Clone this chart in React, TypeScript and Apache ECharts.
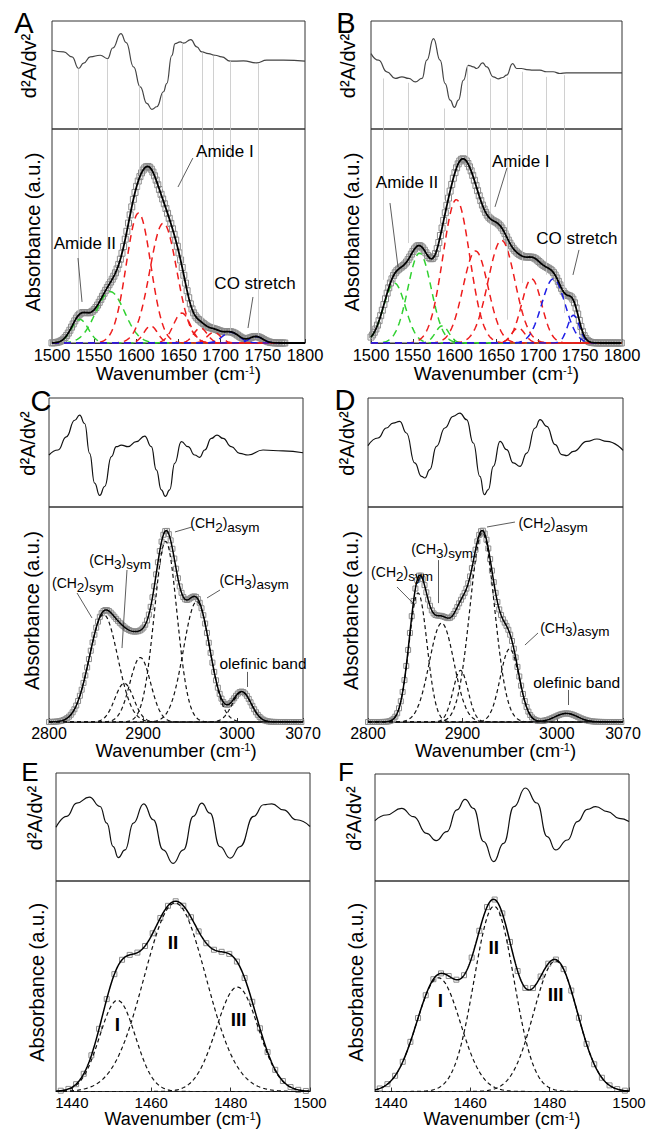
import React, { useEffect, useRef } from "react";
import * as echarts from "echarts";

type Pt = [number, number];
type Peak = [number, number, number]; // [centre (cm-1), height (a.u. 0-100), sigma (cm-1)]

// ---------------- Panel A ----------------
const A_D2: Pt[] = [[1500,72.9],[1513.8,71.4],[1523.7,66.8],[1531.6,56],[1537.5,61],[1545.4,66.8],[1557.2,68.3],[1565.9,65.2],[1572,75],[1581.7,88.3],[1588,80],[1596.7,57.5],[1604.6,39],[1612.5,23.7],[1618.4,18.2],[1624.3,20.6],[1632.2,34.5],[1636,42],[1642,68],[1646,79],[1652,80.6],[1656,79.5],[1664.6,82.8],[1671.7,76],[1677.6,71.4],[1685.5,69.8],[1693.4,68.3],[1701.3,66.8],[1711.2,62.8],[1727,63],[1742.8,61.2],[1754.6,63.7],[1774.3,63.7],[1800,62.8]];
const A_GREEN: Peak[] = [[1533, 11, 10], [1569, 24, 17]];
const A_RED: Peak[] = [[1602.6, 60.7, 14.5], [1617, 8, 8], [1632, 56, 16], [1654, 14, 10], [1676, 7, 8], [1692, 5, 8]];
const A_BLUE: Peak[] = [[1712, 5, 10], [1742, 3, 8]];
const A_GUIDE_WN = [1531.6, 1565.9, 1603.8, 1631, 1655, 1677.6, 1691.4, 1711, 1744];
const A_GUIDE_TOP = [56, 65, 40, 33, 80, 71, 68, 63, 61];
const A_GUIDE_END = [13, 30, 72, 72, 29, 10, 7, 5.5, 3];
const A_LABELS = ["Amide I", "Amide II", "CO stretch"];
const A_LABEL_POS: Pt[] = [[1705, 89.3], [1539, 46.3], [1740.7, 27.6]];
const A_ARROWS: [Pt, Pt][] = [[[1667, 86.4], [1649.4, 72.9]], [[1530.8, 39.7], [1535.6, 19.2]], [[1738.3, 21.5], [1732.4, 7]]];

// ---------------- Panel B ----------------
const B_D2: Pt[] = [[1500,69.8],[1509,63.7],[1519,52.9],[1529,46.8],[1537,48.3],[1545,46.8],[1553,43.7],[1561,46.8],[1566.7,63.7],[1574.7,83.7],[1582.6,63.7],[1588.6,42],[1594.6,26.8],[1599.7,20],[1604.5,26.8],[1610.5,45.2],[1616.4,59],[1622.4,57.5],[1626.4,56],[1633.5,61.2],[1638.3,57.5],[1646.2,48.3],[1652,46.5],[1657.3,47.7],[1662,49.8],[1669.3,60.6],[1674,56],[1680,56],[1686,55],[1693.9,54.5],[1701.8,54.5],[1709.8,53],[1717.7,53],[1725.7,51.4],[1733.6,52],[1753.5,52],[1800,52]];
const B_GREEN: Peak[] = [[1528, 28, 13], [1558, 42, 14], [1585, 8, 8]];
const B_RED: Peak[] = [[1602, 67, 16], [1625, 43, 15], [1656, 48, 16], [1676, 7, 8], [1692, 30, 12]];
const B_BLUE: Peak[] = [[1718, 30, 14], [1742, 13, 7]];
const B_GUIDE_WN = [1514.3, 1544.9, 1587.4, 1615.2, 1643, 1662.9, 1680.7, 1709.8, 1730.8];
const B_GUIDE_TOP = [46.8, 42.8, 19, 59, 46.8, 47.7, 53, 48.3, 49.8];
const B_GUIDE_END = [29.5, 46.7, 66.9, 85.5, 43.5, 10.9, 28, 31.9, 14];
const B_LABELS = ["Amide II", "Amide I", "CO stretch"];
const B_LABEL_POS: Pt[] = [[1543, 75.2], [1679, 85], [1746, 48.6]];
const B_ARROWS: [Pt, Pt][] = [[[1522.7, 65.4], [1532.3, 35.5]], [[1662.5, 81.8], [1648.2, 63.6]], [[1748.6, 43.5], [1741.4, 31.8]]];

// ---------------- Panel C ----------------
const C_D2: Pt[] = [[2800,47.7],[2809.6,52.3],[2818.4,64.4],[2827.3,79.6],[2832.6,84.2],[2837.9,76.6],[2843.2,49.2],[2848.5,21.9],[2853.9,10.6],[2859.2,18.8],[2866.3,46.2],[2871.6,55.3],[2876.9,56.8],[2884,55.3],[2892.8,59.9],[2901.7,65],[2908.8,55.3],[2914.1,34],[2919.4,15.8],[2923.7,9.7],[2928.3,15.8],[2933.6,40.1],[2940.7,59.9],[2947.8,55.3],[2954.9,47.7],[2960.2,45.6],[2965.5,52.3],[2972.6,62.9],[2978.6,66],[2985,62.9],[2993.8,55.3],[3002.7,49.2],[3011.6,47.7],[3027.5,52.3],[3048.8,51.4],[3070,49.8]];
const C_PEAKS: Peak[] = [[2858, 50, 15], [2880, 18, 10], [2897, 30, 11], [2924, 84, 12], [2957, 56, 14], [3005, 14, 10]];
const C_LABELS = ["{p|(CH}{s|2}{p|)}{s|sym}", "{p|(CH}{s|3}{p|)}{s|sym}", "{p|(CH}{s|2}{p|)}{s|asym}", "{p|(CH}{s|3}{p|)}{s|asym}", "{o|olefinic band}"];
const C_LABEL_POS: Pt[] = [[2836, 63.7], [2875.5, 74.4], [2987, 91.6], [3018, 65], [3027.5, 27]];
const C_ARROWS: [Pt, Pt][] = [[[2829.8, 60], [2845.7, 48.4]], [[2882.9, 70.7], [2877.6, 34.4]], [[2952, 90.7], [2933.9, 88.4]], [[2981.8, 61.4], [2968, 57.7]], [[3010.5, 23.3], [3010.5, 16.3]]];

// ---------------- Panel D ----------------
const D_D2: Pt[] = [[2800,56.3],[2810.6,63.3],[2819.5,72.5],[2826.5,77],[2833.6,78.6],[2840.7,67.9],[2849.5,40.4],[2856.6,28.1],[2860.2,26.6],[2865.5,34.3],[2872.5,55.7],[2881.4,72.5],[2890.2,83.2],[2897.3,86.2],[2904.4,80.1],[2911.5,58.7],[2918.5,28.1],[2923.1,11.3],[2927.4,15.9],[2932.7,37.3],[2939.8,60.2],[2946.8,52.6],[2953.9,40.4],[2961,37.3],[2968.1,49.5],[2976.9,72.5],[2982.2,80.1],[2989.3,74],[2998.2,57.2],[3005.2,48],[3010.5,47.1],[3017.6,51.1],[3031.8,60.2],[3042.4,62.4],[3053,60.2],[3070,52]];
const D_PEAKS: Peak[] = [[2853, 60, 9.5], [2878, 46, 13], [2898, 24, 8], [2921, 88, 13], [2950, 34, 10], [3010, 4, 12]];
const D_LABELS = ["{p|(CH}{s|2}{p|)}{s|sym}", "{p|(CH}{s|3}{p|)}{s|sym}", "{p|(CH}{s|2}{p|)}{s|asym}", "{p|(CH}{s|3}{p|)}{s|asym}", "{o|olefinic band}"];
const D_LABEL_POS: Pt[] = [[2836, 68.8], [2878.4, 79.5], [2996, 91.6], [3019, 42.8], [3021, 18.6]];
const D_ARROWS: [Pt, Pt][] = [[[2830.7, 62.8], [2847.6, 55.3]], [[2874.1, 75.3], [2874.1, 55.3]], [[2955.6, 93], [2926, 90.7]], [[2980, 41.4], [2966.2, 35.8]], [[3011.8, 14.9], [3011.8, 7.9]]];

// ---------------- Panel E ----------------
const E_D2: Pt[] = [[1436,49.8],[1438.7,59.8],[1441.2,72.1],[1444.4,77.7],[1447.1,69],[1448.8,53.6],[1450.4,31.9],[1451.7,21.7],[1453.4,28.8],[1455.5,53.6],[1458.1,71.5],[1460.5,56.7],[1463,28.8],[1465.5,16.4],[1468.1,28.8],[1470.6,59.8],[1472.7,72.1],[1474.8,62.8],[1477.3,31.9],[1479.9,21.1],[1482.4,31.9],[1485.8,59.8],[1488.3,70.6],[1490.4,71.5],[1493.3,65.9],[1496.6,56.7],[1500,50.5]];
const E_PEAKS: Peak[] = [[1451.5, 43.3, 4.5], [1466, 89.5, 7.8], [1481.7, 49.6, 5.3]];
const E_LABELS = ["I", "II", "III"];
const E_LABEL_POS: Pt[] = [[1451.5, 31.6], [1465.5, 70.9], [1482, 34]];

// ---------------- Panel F ----------------
const F_D2: Pt[] = [[1436,56.4],[1438.9,61.7],[1442.7,67.9],[1445.7,60.1],[1449,44.5],[1451.4,37.7],[1454.1,46.1],[1456.6,66.4],[1458.7,76.3],[1460.8,67.9],[1463.4,36.8],[1465.9,18.1],[1468.4,35.2],[1471,69.5],[1473.9,86.9],[1476.8,72.9],[1479.4,41.4],[1481.5,29],[1484.5,38.3],[1487,55.5],[1489.5,66.9],[1491.6,69.5],[1494.6,64.8],[1497.5,58.6],[1500,55.5]];
const F_PEAKS: Peak[] = [[1452, 54, 5.5], [1466, 88, 5], [1481.5, 62, 5.5]];
const F_LABELS = ["I", "II", "III"];
const F_LABEL_POS: Pt[] = [[1452.5, 43.2], [1465.9, 68.3], [1481.5, 46.3]];

// tick labels
const AB_TICKS = [1500, 1550, 1600, 1650, 1700, 1750, 1800];
const CD_TICKS = [2800, 2900, 3000, 3070];
const EF_TICKS = [1440, 1460, 1480, 1500];

const FONT = "'Liberation Sans', Arial, Helvetica, sans-serif";
const GREEN = "#2fd12f";
const RED = "#ee1c1c";
const BLUE = "#1c1ce6";
const TXT = "#000";

interface Group { peaks: Peak[]; color: string; }
interface PanelDef {
  letter: string; letterX: number; letterY: number; letterSize: number;
  left: number; width: number; top1: number; h1: number; h2: number;
  xMin: number; xMax: number; ticks: number[]; tickFont: number; tickMargin: number; titleFont: number;
  d2: Pt[]; d2Color: string; groups: Group[]; colored: boolean;
  sqFrom: number; sqTo: number;
  guideWn?: number[]; guideTop?: number[]; guideEnd?: number[];
  labels: string[]; labelPos: Pt[]; arrows: [Pt, Pt][]; kind: "plain" | "chem" | "roman";
  gapD2: number; gapAbs: number;
}

const PANELS: PanelDef[] = [
  { letter: "A", letterX: 24, letterY: 23, letterSize: 29, left: 52, width: 253, top1: 21, h1: 108, h2: 214,
    xMin: 1500, xMax: 1800, ticks: AB_TICKS, tickFont: 16.5, tickMargin: 4, titleFont: 19, d2: A_D2, d2Color: "#444",
    groups: [{ peaks: A_GREEN, color: GREEN }, { peaks: A_RED, color: RED }, { peaks: A_BLUE, color: BLUE }], colored: true,
    sqFrom: 1500, sqTo: 1776, guideWn: A_GUIDE_WN, guideTop: A_GUIDE_TOP, guideEnd: A_GUIDE_END,
    labels: A_LABELS, labelPos: A_LABEL_POS, arrows: A_ARROWS, kind: "plain", gapD2: 13, gapAbs: 9 },
  { letter: "B", letterX: 346, letterY: 23, letterSize: 29, left: 371, width: 251, top1: 21, h1: 108, h2: 214,
    xMin: 1500, xMax: 1800, ticks: AB_TICKS, tickFont: 16.5, tickMargin: 4, titleFont: 19, d2: B_D2, d2Color: "#444",
    groups: [{ peaks: B_GREEN, color: GREEN }, { peaks: B_RED, color: RED }, { peaks: B_BLUE, color: BLUE }], colored: true,
    sqFrom: 1500, sqTo: 1800, guideWn: B_GUIDE_WN, guideTop: B_GUIDE_TOP, guideEnd: B_GUIDE_END,
    labels: B_LABELS, labelPos: B_LABEL_POS, arrows: B_ARROWS, kind: "plain", gapD2: 13, gapAbs: 9 },
  { letter: "C", letterX: 41, letterY: 401, letterSize: 29, left: 49, width: 254, top1: 398, h1: 109, h2: 215,
    xMin: 2800, xMax: 3070, ticks: CD_TICKS, tickFont: 16, tickMargin: 3, titleFont: 18.5, d2: C_D2, d2Color: "#111",
    groups: [{ peaks: C_PEAKS, color: "#111" }], colored: false,
    sqFrom: 2800, sqTo: 3070, labels: C_LABELS, labelPos: C_LABEL_POS, arrows: C_ARROWS, kind: "chem", gapD2: 11, gapAbs: 7 },
  { letter: "D", letterX: 345, letterY: 400, letterSize: 29, left: 368, width: 255, top1: 398, h1: 109, h2: 215,
    xMin: 2800, xMax: 3070, ticks: CD_TICKS, tickFont: 16, tickMargin: 3, titleFont: 18.5, d2: D_D2, d2Color: "#111",
    groups: [{ peaks: D_PEAKS, color: "#111" }], colored: false,
    sqFrom: 2800, sqTo: 3070, labels: D_LABELS, labelPos: D_LABEL_POS, arrows: D_ARROWS, kind: "chem", gapD2: 11, gapAbs: 7 },
  { letter: "E", letterX: 30, letterY: 772, letterSize: 26, left: 56, width: 254, top1: 773, h1: 108, h2: 213,
    xMin: 1436, xMax: 1500, ticks: EF_TICKS, tickFont: 15, tickMargin: 3, titleFont: 18, d2: E_D2, d2Color: "#111",
    groups: [{ peaks: E_PEAKS, color: "#111" }], colored: false,
    sqFrom: 1437.2, sqTo: 1499.5, labels: E_LABELS, labelPos: E_LABEL_POS, arrows: [], kind: "roman", gapD2: 11, gapAbs: 9 },
  { letter: "F", letterX: 346, letterY: 772, letterSize: 26, left: 375, width: 254, top1: 774, h1: 107, h2: 212,
    xMin: 1436, xMax: 1500, ticks: EF_TICKS, tickFont: 15, tickMargin: 3, titleFont: 18, d2: F_D2, d2Color: "#111",
    groups: [{ peaks: F_PEAKS, color: "#111" }], colored: false,
    sqFrom: 1437.2, sqTo: 1499.5, labels: F_LABELS, labelPos: F_LABEL_POS, arrows: [], kind: "roman", gapD2: 11, gapAbs: 9 },
];

function gauss(p: Peak, x: number): number {
  const d = (x - p[0]) / p[2];
  return p[1] * Math.exp(-0.5 * d * d);
}

function buildOption() {
  const grid: any[] = [];
  const xAxis: any[] = [];
  const yAxis: any[] = [];
  const series: any[] = [];
  const graphic: any[] = [];

  PANELS.forEach((P, i) => {
    const gTop = 2 * i;
    const gBot = 2 * i + 1;
    grid.push({ left: P.left, top: P.top1, width: P.width, height: P.h1, show: true, borderColor: "#333", borderWidth: 1, backgroundColor: "transparent" });
    grid.push({ left: P.left, top: P.top1 + P.h1, width: P.width, height: P.h2, show: true, borderColor: "#333", borderWidth: 1, backgroundColor: "transparent" });

    xAxis.push({ type: "value", gridIndex: gTop, min: P.xMin, max: P.xMax, axisLabel: { show: false }, axisTick: { show: false }, axisLine: { show: false }, splitLine: { show: false } });
    xAxis.push({
      type: "value", gridIndex: gBot, min: P.xMin, max: P.xMax,
      axisLine: { show: true, lineStyle: { color: "#333", width: 1 } },
      axisTick: { show: true, inside: true, length: 4, lineStyle: { color: "#333" }, customValues: P.ticks },
      axisLabel: {
        show: true, customValues: P.ticks, formatter: (v: number) => String(v),
        fontSize: P.tickFont, lineHeight: P.tickFont, color: TXT, fontFamily: FONT, margin: P.tickMargin,
      },
      splitLine: { show: false },
      name: "{n|Wavenumber (cm}{s|-1}{n|)}",
      nameLocation: "middle",
      nameGap: P.tickMargin + P.tickFont + 0.5,
      nameMoveOverlap: false,
      nameTextStyle: {
        fontFamily: FONT, color: TXT,
        rich: {
          n: { fontSize: P.titleFont, lineHeight: P.titleFont, verticalAlign: "bottom", fontFamily: FONT, color: TXT },
          s: { fontSize: 11, lineHeight: 11, verticalAlign: "top", fontFamily: FONT, color: TXT },
        },
      },
    });
    yAxis.push({
      type: "value", gridIndex: gTop, min: 0, max: 100, axisLabel: { show: false }, axisTick: { show: false }, axisLine: { show: false }, splitLine: { show: false },
      name: "d²A/dv²", nameLocation: "middle", nameGap: P.gapD2, nameMoveOverlap: false,
      nameTextStyle: { fontSize: 20, fontFamily: FONT, color: TXT, padding: [0, 0, 0, 18] },
    });
    yAxis.push({
      type: "value", gridIndex: gBot, min: 0, max: 100, axisLabel: { show: false }, axisTick: { show: false }, axisLine: { show: false }, splitLine: { show: false },
      name: "Absorbance (a.u.)", nameLocation: "middle", nameGap: P.gapAbs, nameMoveOverlap: false,
      nameTextStyle: { fontSize: 20, fontFamily: FONT, color: TXT, padding: [0, 0, 0, 8] },
    });

    // second-derivative spectrum (top)
    const topGuides = P.guideWn
      ? P.guideWn.map((w, k) => [{ coord: [w, P.guideTop![k]] }, { coord: [w, 0] }])
      : [];
    series.push({
      type: "line", xAxisIndex: gTop, yAxisIndex: gTop, data: P.d2, smooth: 0.5, smoothMonotone: "x",
      symbol: "none", lineStyle: { color: P.d2Color, width: 1.2 }, silent: true, z: 4,
      markLine: topGuides.length ? { silent: true, symbol: "none", label: { show: false }, lineStyle: { color: "#c4c4c4", width: 0.8, type: "solid" }, data: topGuides } : undefined,
    });

    // measured points (squares)
    const sq: Pt[] = [];
    const all: Peak[] = ([] as Peak[]).concat(...P.groups.map((g) => g.peaks));
    for (let x = P.sqFrom; x <= P.sqTo + 1e-6; x += 1.93) {
      sq.push([x, all.reduce((s, p) => s + gauss(p, x), 0)]);
    }
    series.push({
      type: "scatter", xAxisIndex: gBot, yAxisIndex: gBot, data: sq, symbol: "rect", symbolSize: P.colored ? 6 : 5,
      itemStyle: { color: "rgba(0,0,0,0)", borderColor: "#8c8c8c", borderWidth: 1, opacity: 1 }, silent: true, z: 2,
    });

    // fitted components
    const N = 360;
    const xs: number[] = [];
    for (let k = 0; k <= N; k++) xs.push(P.xMin + ((P.xMax - P.xMin) * k) / N);
    P.groups.forEach((g) => {
      g.peaks.forEach((p) => {
        series.push({
          type: "line", xAxisIndex: gBot, yAxisIndex: gBot, symbol: "none", silent: true, z: 3,
          data: xs.map((x) => [x, gauss(p, x)]),
          lineStyle: { color: g.color, width: P.colored ? 1.5 : 1.2, type: P.colored ? [7, 5] : [4, 3] },
        });
      });
    });

    // envelope (sum of components)
    const botGuides = P.guideWn
      ? P.guideWn.map((w, k) => [{ coord: [w, 100] }, { coord: [w, P.guideEnd![k]] }])
      : [];
    series.push({
      type: "line", xAxisIndex: gBot, yAxisIndex: gBot, symbol: "none", silent: true, z: 5,
      data: xs.map((x) => [x, all.reduce((s, p) => s + gauss(p, x), 0)]),
      lineStyle: { color: "#000", width: P.colored ? 1.8 : 1.5 },
      markLine: botGuides.length ? { silent: true, symbol: "none", label: { show: false }, lineStyle: { color: "#c4c4c4", width: 0.8, type: "solid" }, data: botGuides } : undefined,
    });

    // annotations
    const richChem = {
      p: { fontSize: 14, lineHeight: 14, verticalAlign: "top", fontFamily: FONT, color: TXT, textBorderWidth: 0, opacity: 1 },
      s: { fontSize: 13.5, lineHeight: 18, verticalAlign: "bottom", fontFamily: FONT, color: TXT, textBorderWidth: 0, opacity: 1 },
      o: { fontSize: 15.5, lineHeight: 18, verticalAlign: "middle", fontFamily: FONT, color: TXT, textBorderWidth: 0, opacity: 1 },
    };
    series.push({
      type: "scatter", xAxisIndex: gBot, yAxisIndex: gBot, symbolSize: 1, silent: true, z: 6,
      itemStyle: { color: "rgba(0,0,0,0)", opacity: 1 },
      data: P.labelPos.map((pos, k) => ({ value: pos, label: { formatter: P.labels[k] } })),
      label: {
        show: true, position: "inside", color: TXT, fontFamily: FONT, opacity: 1,
        textBorderWidth: 0, textBorderColor: "transparent",
        fontSize: P.kind === "roman" ? 19 : 17,
        fontWeight: P.kind === "roman" ? "bold" : "normal",
        rich: P.kind === "chem" ? richChem : undefined,
      },
      markLine: P.arrows.length ? {
        silent: true, symbol: ["none", "arrow"], symbolSize: [0, 6], label: { show: false },
        lineStyle: { color: "#333", width: 0.8, type: "solid" },
        data: P.arrows.map((a) => [{ coord: a[0] }, { coord: a[1] }]),
      } : undefined,
    });

    graphic.push({
      type: "text", x: P.letterX, y: P.letterY, silent: true,
      style: { text: P.letter, font: `${P.letterSize}px ${FONT}`, fill: "#000", align: "center", verticalAlign: "middle", textAlign: "center", textVerticalAlign: "middle" },
    });
  });

  return {
    animation: false,
    backgroundColor: "#fff",
    textStyle: { fontFamily: FONT },
    grid, xAxis, yAxis, series, graphic,
  };
}

export default function App() {
  const ref = useRef<HTMLDivElement>(null);
  useEffect(() => {
    if (!ref.current) return;
    const chart = echarts.init(ref.current, undefined, { renderer: "svg" });
    chart.setOption(buildOption() as any);
    return () => chart.dispose();
  }, []);
  return <div ref={ref} style={{ position: "absolute", left: 0, top: 0, width: 651, height: 1129, background: "#fff" }} />;
}
